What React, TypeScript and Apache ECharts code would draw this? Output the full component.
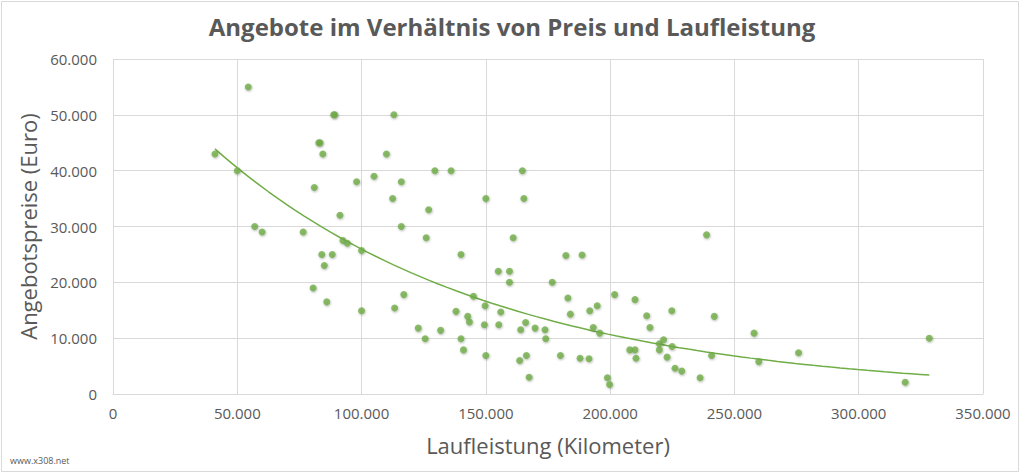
import React, { useEffect, useRef } from "react";
import * as echarts from "echarts";

const TITLE = "Angebote im Verhältnis von Preis und Laufleistung";
const X_NAME = "Laufleistung (Kilometer)";
const Y_NAME = "Angebotspreise (Euro)";
const WATERMARK = "www.x308.net";

const mileage = [
  41000, 50000, 54400, 57000, 60000, 76500, 80500, 81000, 82800, 83300,
  84400, 84000, 85000, 86000, 88200, 88800, 89200, 91300, 92500, 94300,
  98000, 100000, 100000, 105000, 110000, 112500, 113000, 113300, 116000, 116000,
  117000, 122800, 125600, 126000, 127000, 129500, 131800, 136000, 138000, 140000,
  140000, 141000, 142700, 143400, 145000, 149400, 149700, 150000, 150000, 155000,
  155200, 156000, 159500, 159500, 161000, 163600, 164000, 164700, 165300, 166000,
  166300, 167400, 169800, 173800, 174100, 176700, 180000, 182200, 183000, 184000,
  187900, 188700, 191500, 191800, 193200, 194800, 195800, 198900, 199800, 201800,
  207900, 210000, 210000, 210400, 214700, 216000, 219800, 219800, 221500, 222900,
  224800, 224900, 226100, 228800, 236200, 238800, 240800, 241900, 257900, 259800,
  275800, 318700, 328400,
];

const price = [
  43000, 40000, 55000, 30000, 29000, 29000, 19000, 37000, 45000, 45000,
  43000, 25000, 23000, 16500, 25000, 50000, 50000, 32000, 27500, 27000,
  38000, 25700, 14900, 39000, 43000, 35000, 50000, 15400, 38000, 30000,
  17800, 11800, 9900, 28000, 33000, 40000, 11400, 40000, 14800, 25000,
  9900, 7900, 13900, 12900, 17500, 12400, 15800, 35000, 6900, 22000,
  12400, 14700, 22000, 20000, 28000, 6000, 11500, 40000, 35000, 12800,
  6900, 3000, 11800, 11500, 9900, 20000, 6900, 24800, 17200, 14300,
  6400, 24900, 6300, 14900, 11900, 15800, 10900, 2900, 1700, 17800,
  7900, 7900, 16900, 6400, 14000, 11900, 9000, 7900, 9700, 6600,
  14900, 8500, 4600, 4100, 2900, 28500, 6900, 13900, 10900, 5800,
  7400, 2100, 10000,
];

const xTicks = { min: 0, max: 350000, interval: 50000 };
const yTicks = { min: 0, max: 60000, interval: 10000 };

const GREEN = "#70AD47";
const TEXT = "#595959";
const GRID = "#D9D9D9";
const FONT = "'Open Sans', sans-serif";

function fmt(v: number): string {
  return String(Math.round(v)).replace(/\B(?=(\d{3})+(?!\d))/g, ".");
}

// Exponential trendline (least squares on ln y), as Excel does
function expFit(xs: number[], ys: number[]) {
  const n = xs.length;
  let sx = 0, sy = 0, sxx = 0, sxy = 0;
  for (let i = 0; i < n; i++) {
    const lx = xs[i];
    const ly = Math.log(ys[i]);
    sx += lx; sy += ly; sxx += lx * lx; sxy += lx * ly;
  }
  const b = (n * sxy - sx * sy) / (n * sxx - sx * sx);
  const lnA = (sy - b * sx) / n;
  return (x: number) => Math.exp(lnA + b * x);
}

export default function App() {
  const ref = useRef<HTMLDivElement>(null);
  useEffect(() => {
    if (!ref.current) return;
    const chart = echarts.init(ref.current, null, { renderer: "svg" });
    const f = expFit(mileage, price);
    const xMin = Math.min(...mileage);
    const xMax = Math.max(...mileage);
    const steps = 80;
    const trend: number[][] = [];
    for (let i = 0; i <= steps; i++) {
      const x = xMin + ((xMax - xMin) * i) / steps;
      trend.push([x, f(x)]);
    }
    const points = mileage.map((m, i) => [m, price[i]]);
    chart.setOption({
      animation: false,
      backgroundColor: "#ffffff",
      textStyle: { fontFamily: FONT },
      title: {
        text: TITLE,
        left: "center",
        top: 9,
        textStyle: { fontFamily: FONT, fontSize: 24, fontWeight: "bold", color: TEXT },
      },
      grid: { left: 113, right: 41, top: 59, bottom: 81, containLabel: false },
      xAxis: {
        type: "value",
        min: xTicks.min,
        max: xTicks.max,
        interval: xTicks.interval,
        name: X_NAME,
        nameLocation: "middle",
        nameGap: 40,
        nameTextStyle: { fontFamily: FONT, fontSize: 22, color: TEXT },
        axisLine: { show: true, lineStyle: { color: GRID, width: 1 } },
        axisTick: { show: false },
        axisLabel: { color: TEXT, fontSize: 15, fontFamily: FONT, margin: 11, formatter: fmt },
        splitLine: { show: true, lineStyle: { color: GRID, width: 1 } },
      },
      yAxis: {
        type: "value",
        min: yTicks.min,
        max: yTicks.max,
        interval: yTicks.interval,
        name: Y_NAME,
        nameLocation: "middle",
        nameGap: 72,
        nameTextStyle: { fontFamily: FONT, fontSize: 22, color: TEXT },
        axisLine: { show: false },
        axisTick: { show: false },
        axisLabel: { color: TEXT, fontSize: 15, fontFamily: FONT, margin: 16, formatter: fmt },
        splitLine: { show: true, lineStyle: { color: GRID, width: 1 } },
      },
      graphic: [
        {
          type: "rect",
          shape: { x: 1.5, y: 1.5, width: 1017, height: 470 },
          style: { fill: "none", stroke: GRID, lineWidth: 1 },
          silent: true,
        },
        {
          type: "text",
          left: 10,
          top: 456,
          style: { text: WATERMARK, fill: TEXT, font: `9px ${FONT}` },
        },
      ],
      series: [
        {
          type: "line",
          data: trend,
          showSymbol: false,
          symbol: "none",
          smooth: false,
          lineStyle: { color: GREEN, width: 1.5 },
          z: 2,
          silent: true,
        },
        {
          type: "scatter",
          data: points,
          symbol: "circle",
          symbolSize: 7,
          itemStyle: {
            color: GREEN,
            shadowBlur: 2,
            shadowColor: "rgba(0,0,0,0.35)",
            shadowOffsetX: 0.5,
            shadowOffsetY: 1,
          },
          z: 3,
        },
      ],
    });
    return () => chart.dispose();
  }, []);
  return (
    <div
      ref={ref}
      style={{ position: "absolute", left: 0, top: 0, width: 1024, height: 475, background: "#fff" }}
    />
  );
}
